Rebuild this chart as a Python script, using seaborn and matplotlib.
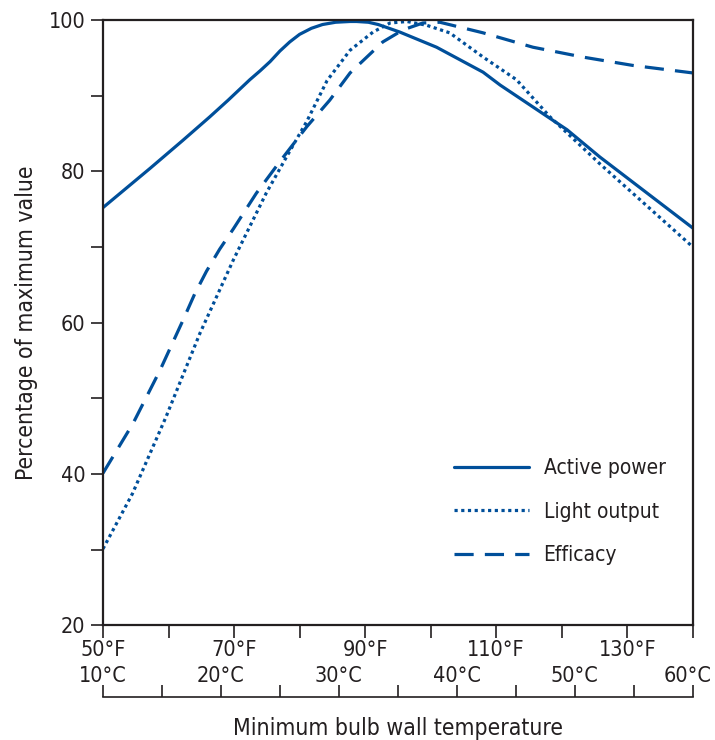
import pandas as pd
import matplotlib.pyplot as plt
import seaborn as sns
from matplotlib.transforms import ScaledTranslation

# values (x in degrees F, y in % of max)
power_f = [50, 57.2, 62.2, 66.3, 69.1, 72.4, 74.0, 75.5, 77.0, 78.5, 80.0, 81.8, 83.5, 85.5, 87.7, 88.7, 90.5, 92.0, 95.3, 100.9, 108.0, 110.6, 118.2, 120.8, 125.8, 140]
power_v = [75.2, 80.4, 84.1, 87.2, 89.4, 92.1, 93.3, 94.5, 95.9, 97.1, 98.1, 98.9, 99.4, 99.7, 99.8, 99.8, 99.7, 99.4, 98.4, 96.4, 93.1, 91.4, 87.0, 85.5, 81.9, 72.5]

light_f = [50, 54.5, 59.6, 64.8, 69.9, 74.9, 78.0, 81.1, 84.2, 87.7, 91.2, 93.8, 96.4, 99.4, 102.9, 108.0, 113.1, 118.2, 125.8, 140]
light_v = [30.1, 37.4, 47.5, 58.6, 68.3, 77.1, 81.9, 86.6, 92.0, 96.0, 98.4, 99.6, 99.8, 99.3, 98.3, 95.1, 92.1, 87.2, 81.0, 70.0]

eff_f = [50, 54.6, 58.7, 62.2, 64.0, 65.8, 67.8, 69.9, 73.4, 77.0, 81.1, 84.6, 87.7, 92.7, 95.8, 98.8, 101.4, 108.0, 115.6, 123.2, 130.8, 140]
eff_v = [40.1, 46.7, 53.7, 60.3, 63.8, 66.8, 69.7, 72.4, 77.1, 81.3, 85.9, 89.4, 93.0, 97.1, 98.7, 99.6, 99.7, 98.3, 96.4, 95.1, 94.0, 93.0]

f_ticks = [50, 60, 70, 80, 90, 100, 110, 120, 130, 140]
f_labels = ["50°F", "", "70°F", "", "90°F", "", "110°F", "", "130°F", ""]
c_ticks = [10, 15, 20, 25, 30, 35, 40, 45, 50, 55, 60]
c_labels = ["10°C", "", "20°C", "", "30°C", "", "40°C", "", "50°C", "", "60°C"]

power = pd.DataFrame({"temp": power_f, "pct": power_v})
light = pd.DataFrame({"temp": light_f, "pct": light_v})
eff = pd.DataFrame({"temp": eff_f, "pct": eff_v})

sns.set_style("ticks")
plt.rcParams["font.family"] = ["DejaVu Sans"]
plt.rcParams["font.stretch"] = "condensed"
ink = "#231f20"
blue = "#004f9a"
fs = 15.5

fig = plt.figure(figsize=(7.15, 7.4), dpi=100)
ax = fig.add_axes([0.144, 0.155, 0.825, 0.818])

sns.lineplot(data=power, x="temp", y="pct", ax=ax, color=blue, lw=2.3,
             label="Active power", sort=False)
sns.lineplot(data=light, x="temp", y="pct", ax=ax, color=blue, lw=2.3,
             linestyle=(0, (1, 1.1)), label="Light output", sort=False)
sns.lineplot(data=eff, x="temp", y="pct", ax=ax, color=blue, lw=2.3,
             linestyle=(0, (6, 3.5)), label="Efficacy", sort=False)

ax.set_xlim(50, 140)
ax.set_ylim(20, 100)
ax.set_yticks([20, 40, 60, 80, 100])
ax.set_yticks([30, 50, 70, 90], minor=True)
ax.set_xticks(f_ticks)
ax.set_xticklabels(f_labels)
ax.tick_params(axis="both", which="both", direction="out", length=9, width=1.2,
               color=ink, labelcolor=ink, labelsize=fs)
ax.tick_params(axis="x", pad=1.5)
for s in ax.spines.values():
    s.set_visible(True)
    s.set_color(ink)
    s.set_linewidth(1.6)

ax.set_xlabel("")
ax.set_ylabel("Percentage of maximum value", fontsize=16.5, color=ink, labelpad=8)

# celsius scale below
secax = ax.secondary_xaxis(-0.119, functions=(lambda f: (f - 32) * 5 / 9,
                                              lambda c: c * 9 / 5 + 32))
secax.set_xticks(c_ticks)
secax.set_xticklabels(c_labels)
secax.xaxis.set_ticks_position("top")
secax.tick_params(axis="x", direction="out", length=9, width=1.2, color=ink,
                  labelcolor=ink, labelsize=fs, pad=-1.2)
secax.spines["bottom"].set_color(ink)
secax.spines["bottom"].set_linewidth(1.2)
# nudge last label so it stays inside the figure
last = secax.get_xticklabels()[-1]
last.set_transform(last.get_transform() + ScaledTranslation(-4 / 72, 0, fig.dpi_scale_trans))

fig.text(0.5 * (0.144 + 0.969), 0.016, "Minimum bulb wall temperature",
         ha="center", va="center", fontsize=16.5, color=ink)

ax.legend(loc="upper left", bbox_to_anchor=(0.595, 0.276), frameon=False,
          fontsize=15, handlelength=3.6, handletextpad=0.7, labelspacing=1.12,
          borderpad=0, borderaxespad=0, labelcolor=ink)

fig.savefig("out.png", dpi=100)
